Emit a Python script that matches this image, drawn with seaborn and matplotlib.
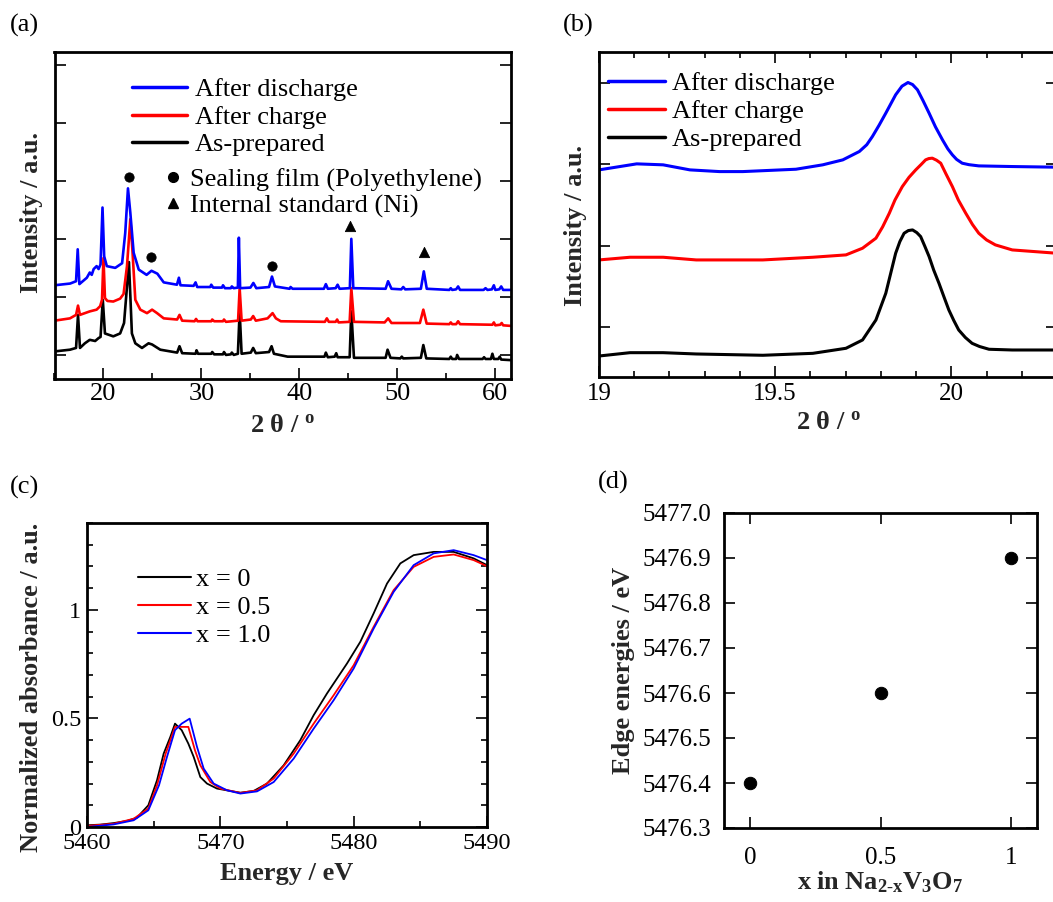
import numpy as np
import pandas as pd
import matplotlib
matplotlib.use("Agg")
import matplotlib.pyplot as plt
import seaborn as sns
from matplotlib.ticker import MultipleLocator, FixedLocator, NullFormatter, FormatStrFormatter
from matplotlib.lines import Line2D

# ---------------- data ----------------
# (a) XRD patterns (2theta, offset intensity in arbitrary tick units)
xrd_discharge = [(15.0, 2.20), (16.6, 2.23), (17.2, 2.27), (17.37, 2.82), (17.54, 2.22), (18.3, 2.33), (18.6, 2.42),
                 (18.8, 2.38), (19.0, 2.48), (19.3, 2.53), (19.5, 2.48), (19.7, 2.56), (19.9, 3.54), (20.07, 2.70),
                 (20.34, 2.53), (21.2, 2.50), (21.9, 2.58), (22.22, 3.10), (22.5, 3.87), (22.74, 3.45), (23.08, 2.76),
                 (23.6, 2.47), (24.4, 2.38), (24.9, 2.45), (25.5, 2.40), (26.15, 2.25), (27.5, 2.21), (27.7, 2.33),
                 (27.86, 2.20), (29.2, 2.19), (29.4, 2.25), (29.57, 2.17), (30.9, 2.17), (31.0, 2.21), (31.2, 2.16),
                 (32.1, 2.16), (32.2, 2.20), (32.4, 2.15), (33.0, 2.15), (33.1, 2.18), (33.3, 2.15), (33.72, 2.16),
                 (33.82, 3.02), (33.95, 2.15), (35.0, 2.16), (35.3, 2.24), (35.6, 2.15), (36.9, 2.17), (37.2, 2.35),
                 (37.5, 2.18), (39.0, 2.14), (39.1, 2.17), (39.3, 2.14), (42.5, 2.14), (42.7, 2.22), (42.9, 2.14),
                 (43.7, 2.15), (43.9, 2.21), (44.1, 2.14), (45.15, 2.15), (45.3, 3.0), (45.5, 2.15), (48.8, 2.14),
                 (49.05, 2.27), (49.4, 2.14), (50.4, 2.13), (50.6, 2.17), (50.8, 2.13), (52.4, 2.14), (52.7, 2.44),
                 (53.0, 2.14), (55.3, 2.12), (55.45, 2.15), (55.6, 2.12), (56.0, 2.13), (56.2, 2.18), (56.4, 2.12),
                 (58.8, 2.12), (59.0, 2.15), (59.2, 2.12), (59.65, 2.13), (59.85, 2.20), (60.0, 2.12), (60.4, 2.13),
                 (60.6, 2.18), (60.8, 2.12), (61.6, 2.12)]
xrd_charge = [(15.0, 1.59), (16.58, 1.63), (17.2, 1.69), (17.4, 1.85), (17.6, 1.69), (18.6, 1.75), (19.3, 1.78),
              (19.66, 1.84), (19.85, 1.95), (20.0, 2.67), (20.15, 1.98), (20.4, 1.93), (21.0, 1.92), (21.7, 1.97),
              (22.05, 2.05), (22.4, 2.53), (22.74, 3.34), (22.97, 2.76), (23.25, 1.95), (23.76, 1.78), (24.44, 1.72),
              (24.96, 1.78), (25.47, 1.72), (26.15, 1.63), (27.52, 1.61), (27.76, 1.69), (28.03, 1.59), (29.3, 1.58),
              (29.45, 1.62), (29.6, 1.58), (31.0, 1.58), (31.1, 1.61), (31.3, 1.58), (32.2, 1.58), (32.3, 1.61),
              (32.5, 1.57), (33.74, 1.59), (33.9, 2.15), (34.1, 1.59), (35.04, 1.61), (35.28, 1.67), (35.55, 1.59),
              (36.75, 1.63), (37.26, 1.72), (37.6, 1.63), (38.1, 1.58), (42.6, 1.57), (42.8, 1.63), (43.0, 1.57),
              (43.7, 1.57), (43.85, 1.61), (44.0, 1.56), (45.13, 1.57), (45.3, 2.15), (45.57, 1.57), (48.7, 1.56),
              (49.06, 1.63), (49.4, 1.55), (52.3, 1.55), (52.65, 1.78), (52.99, 1.54), (55.3, 1.53), (55.45, 1.56),
              (55.6, 1.53), (56.0, 1.53), (56.2, 1.58), (56.4, 1.53), (59.7, 1.52), (59.85, 1.56), (60.0, 1.51),
              (60.5, 1.52), (60.65, 1.55), (60.8, 1.51), (61.6, 1.50)]
xrd_asprep = [(15.0, 1.06), (16.58, 1.09), (17.2, 1.12), (17.4, 1.69), (17.6, 1.12), (18.1, 1.20), (18.6, 1.26),
              (19.15, 1.24), (19.5, 1.29), (19.7, 1.31), (19.93, 1.95), (20.15, 1.37), (21.0, 1.32), (21.7, 1.37),
              (22.1, 1.55), (22.6, 2.6), (22.9, 1.37), (23.25, 1.20), (23.93, 1.12), (24.6, 1.20), (24.96, 1.18),
              (25.8, 1.09), (27.52, 1.04), (27.76, 1.15), (28.03, 1.03), (29.4, 1.02), (29.5, 1.08), (29.65, 1.02),
              (31.0, 1.02), (31.1, 1.05), (31.3, 1.01), (32.2, 1.01), (32.3, 1.05), (32.5, 1.00), (33.0, 1.01),
              (33.1, 1.04), (33.3, 1.00), (33.72, 1.02), (33.9, 1.75), (34.1, 1.02), (35.04, 1.04), (35.28, 1.12),
              (35.55, 1.03), (36.9, 1.05), (37.16, 1.15), (37.4, 1.02), (38.8, 0.97), (42.56, 0.97), (42.7, 1.04),
              (42.9, 0.96), (43.6, 0.97), (43.76, 1.03), (43.9, 0.96), (45.13, 0.96), (45.3, 1.75), (45.57, 0.95),
              (48.8, 0.95), (49.0, 1.09), (49.3, 0.95), (50.3, 0.94), (50.45, 0.97), (50.6, 0.94), (52.4, 0.95),
              (52.65, 1.17), (52.95, 0.94), (55.3, 0.93), (55.45, 0.97), (55.6, 0.93), (56.0, 0.93), (56.1, 1.0),
              (56.3, 0.93), (58.7, 0.93), (58.85, 0.96), (59.0, 0.93), (59.55, 0.93), (59.7, 1.02), (59.85, 0.93),
              (60.3, 0.93), (60.45, 0.97), (60.6, 0.92), (61.6, 0.91)]
pe_marks_x = [22.56, 24.89, 37.16]
pe_marks_y = [4.06, 2.68, 2.54]
ni_marks_x = [45.13, 52.75]
ni_marks_y = [3.23, 2.77]

# (b) zoom of the ~19.9 deg peak
zoom_discharge = [(19.000, 2.931), (19.107, 3.005), (19.182, 2.993), (19.258, 2.931), (19.342, 2.910),
                  (19.408, 2.910), (19.559, 2.939), (19.635, 2.993), (19.692, 3.054), (19.739, 3.157),
                  (19.760, 3.240), (19.776, 3.341), (19.795, 3.480), (19.814, 3.628), (19.842, 3.854),
                  (19.860, 3.960), (19.877, 4.005), (19.890, 3.980), (19.904, 3.915), (19.920, 3.780),
                  (19.937, 3.628), (19.955, 3.460), (19.975, 3.300), (19.990, 3.190), (20.003, 3.116),
                  (20.015, 3.060), (20.031, 3.013), (20.050, 2.995), (20.078, 2.980), (20.173, 2.972),
                  (20.300, 2.964)]
zoom_charge = [(19.000, 1.824), (19.088, 1.857), (19.182, 1.857), (19.276, 1.824), (19.465, 1.824),
               (19.607, 1.857), (19.701, 1.886), (19.748, 1.968), (19.786, 2.091), (19.805, 2.230),
               (19.824, 2.398), (19.840, 2.560), (19.861, 2.726), (19.880, 2.840), (19.899, 2.931),
               (19.915, 3.000), (19.927, 3.054), (19.936, 3.070), (19.946, 3.075), (19.958, 3.050),
               (19.970, 3.013), (19.985, 2.880), (20.003, 2.726), (20.020, 2.560), (20.041, 2.398),
               (20.060, 2.260), (20.078, 2.152), (20.100, 2.070), (20.125, 2.009), (20.173, 1.947),
               (20.300, 1.906)]
zoom_asprep = [(19.000, 0.643), (19.088, 0.684), (19.182, 0.684), (19.276, 0.668), (19.465, 0.652),
               (19.607, 0.676), (19.701, 0.738), (19.748, 0.840), (19.786, 1.086), (19.814, 1.414),
               (19.828, 1.660), (19.842, 1.906), (19.854, 2.050), (19.866, 2.152), (19.878, 2.185),
               (19.890, 2.193), (19.902, 2.160), (19.913, 2.111), (19.925, 1.990), (19.937, 1.865),
               (19.950, 1.700), (19.965, 1.537), (19.980, 1.360), (19.993, 1.209), (20.007, 1.080),
               (20.021, 0.963), (20.040, 0.870), (20.059, 0.799), (20.080, 0.760), (20.107, 0.726),
               (20.173, 0.717), (20.300, 0.717)]

# (c) XANES spectra
xas_x0_e = [5460, 5461, 5462, 5463, 5463.75, 5464.6, 5465.25, 5465.75, 5466.25, 5466.6, 5467.1, 5467.6, 5468,
            5468.5, 5469, 5469.75, 5470.75, 5471.5, 5472.5, 5473.5, 5474.75, 5476, 5477, 5478, 5479.5, 5480.5,
            5481.5, 5482.5, 5483.5, 5484.5, 5486, 5487.5, 5489, 5490]
xas_x0_a = [0.008, 0.011, 0.018, 0.028, 0.043, 0.10, 0.215, 0.338, 0.415, 0.476, 0.446, 0.384, 0.323,
            0.23, 0.20, 0.177, 0.166, 0.158, 0.166, 0.20, 0.284, 0.40, 0.515, 0.615, 0.753, 0.853,
            0.984, 1.121, 1.214, 1.252, 1.267, 1.267, 1.237, 1.206]
xas_x05_e = [5460, 5462, 5463.5, 5464.6, 5465.25, 5465.9, 5466.6, 5467.1, 5467.6, 5468.1, 5468.5, 5469.25, 5470,
             5471.5, 5472.75, 5474, 5475.5, 5477, 5478.5, 5480, 5481.5, 5483, 5484.5, 5486, 5487.5, 5489, 5490]
xas_x05_a = [0.005, 0.015, 0.038, 0.085, 0.192, 0.338, 0.461, 0.461, 0.461, 0.353, 0.284, 0.207, 0.177,
             0.157, 0.169, 0.223, 0.338, 0.476, 0.607, 0.745, 0.922, 1.091, 1.198, 1.244, 1.255, 1.229, 1.201]
xas_x10_e = [5460, 5462, 5463.5, 5464.6, 5465.4, 5466, 5466.6, 5467.1, 5467.7, 5468.25, 5468.75, 5469.5, 5470.5,
             5471.5, 5472.75, 5474, 5475.5, 5477, 5478.5, 5480, 5481.5, 5483, 5484.5, 5486, 5487.5, 5489, 5490]
xas_x10_a = [0.0, 0.012, 0.031, 0.077, 0.192, 0.323, 0.446, 0.476, 0.499, 0.369, 0.269, 0.20, 0.169,
             0.154, 0.164, 0.207, 0.315, 0.453, 0.584, 0.730, 0.914, 1.083, 1.206, 1.260, 1.275, 1.252, 1.229]

# (d) edge energies
x_in_na = [0, 0.5, 1]
edge_energy = [5476.4, 5476.6, 5476.9]

legend_xrd = ["After discharge", "After charge", "As-prepared"]
legend_marks = ["Sealing film (Polyethylene)", "Internal standard (Ni)"]
legend_xas = ["x = 0", "x = 0.5", "x = 1.0"]

# ---------------- style ----------------
sns.set_theme(style="ticks")
plt.rcParams["font.family"] = ["Liberation Serif", "DejaVu Serif"]
plt.rcParams["mathtext.fontset"] = "custom"
plt.rcParams["mathtext.rm"] = "Liberation Serif"
plt.rcParams["mathtext.it"] = "Liberation Serif:italic"
plt.rcParams["mathtext.bf"] = "Liberation Serif:bold"
plt.rcParams["axes.linewidth"] = 2.0
plt.rcParams["axes.edgecolor"] = "black"
plt.rcParams["text.color"] = "black"

W, H = 1053, 902
fig = plt.figure(figsize=(W / 100, H / 100), dpi=100)


def add_ax(l, t, r, b):
    return fig.add_axes([l / W, 1 - b / H, (r - l) / W, (b - t) / H])


def style_ticks(ax, size, pad=3, left=True, right=True, top=False, bottom=True):
    ax.tick_params(which="both", direction="in", colors="black", left=left, right=right, top=top,
                   bottom=bottom, labelsize=size, pad=pad)
    ax.tick_params(which="major", length=8, width=1.2)
    ax.tick_params(which="minor", length=4.5, width=1.2)
    for s in ax.spines.values():
        s.set_linewidth(2.0)
        s.set_color("black")


BLUE, RED, BLACK = "#0000ff", "#ff0000", "#000000"
LAB = dict(fontsize=19, fontweight="bold")

# ---------------- (a) ----------------
axA = add_ax(54.5, 52, 511, 379)
for pts, col in [(xrd_asprep, BLACK), (xrd_charge, RED), (xrd_discharge, BLUE)]:
    xs, ys = zip(*pts)
    sns.lineplot(x=list(xs), y=list(ys), ax=axA, color=col, lw=1.9, sort=False, estimator=None)
sns.scatterplot(x=pe_marks_x, y=pe_marks_y, ax=axA, color="black", marker="o", s=45, edgecolor="black", zorder=5)
sns.scatterplot(x=ni_marks_x, y=ni_marks_y, ax=axA, color="black", marker="^", s=55, edgecolor="black", zorder=5)
axA.set_xlim(15, 61.6)
axA.set_ylim(0.585, 6.22)
axA.xaxis.set_major_locator(MultipleLocator(10))
axA.xaxis.set_minor_locator(MultipleLocator(5))
axA.yaxis.set_major_locator(FixedLocator([1, 2, 3, 4, 5, 6]))
axA.yaxis.set_major_formatter(NullFormatter())
style_ticks(axA, 19, pad=3)
axA.set_xlabel(r"2 θ / $^{\mathbf{o}}$", **LAB)
axA.set_ylabel("Intensity / a.u.", **LAB)
axA.xaxis.set_label_coords(0.5, -0.108)
axA.yaxis.set_label_coords(-0.025, 0.51)

hl = [Line2D([], [], color=BLUE, lw=2.5), Line2D([], [], color=RED, lw=2.5), Line2D([], [], color=BLACK, lw=2.5)]
leg1 = axA.legend(hl, legend_xrd, loc="upper left",
                  bbox_to_anchor=((132 - 54.5) / 456.5, (379 - 78) / 327), frameon=False, fontsize=19,
                  handlelength=2.1, handletextpad=0.27, labelspacing=0.15, borderpad=0, borderaxespad=0)
axA.add_artist(leg1)
hm = [Line2D([], [], color="black", marker="o", ls="", markersize=7),
      Line2D([], [], color="black", marker="^", ls="", markersize=7)]
axA.legend(hm, legend_marks, loc="upper left",
           bbox_to_anchor=((162 - 54.5) / 456.5, (379 - 168) / 327), frameon=False, fontsize=19,
           handlelength=0.8, handletextpad=0.25, labelspacing=0.07, borderpad=0, borderaxespad=0)

# ---------------- (b) ----------------
axB = add_ax(599, 52, 1057, 377)
for pts, col in [(zoom_asprep, BLACK), (zoom_charge, RED), (zoom_discharge, BLUE)]:
    xs, ys = zip(*pts)
    sns.lineplot(x=list(xs), y=list(ys), ax=axB, color=col, lw=2.2, sort=False, estimator=None)
axB.set_xlim(19, 20.3)
axB.set_ylim(0.385, 4.38)
axB.xaxis.set_major_locator(FixedLocator([19, 19.5, 20]))
axB.xaxis.set_minor_locator(MultipleLocator(0.1))
axB.set_xticklabels(["19", "19.5", "20"])
axB.yaxis.set_major_locator(FixedLocator([1, 2, 3, 4]))
axB.yaxis.set_major_formatter(NullFormatter())
style_ticks(axB, 18, pad=4, top=True)
axB.set_xlabel(r"2 θ / $^{\mathbf{o}}$", **LAB)
axB.set_ylabel("Intensity / a.u.", **LAB)
axB.xaxis.set_label_coords(0.5, -0.105)
axB.yaxis.set_label_coords(-0.026, 0.465)
axB.legend(hl, legend_xrd, loc="upper left",
           bbox_to_anchor=((608 - 599) / 458, (377 - 72) / 325), frameon=False, fontsize=19,
           handlelength=2.15, handletextpad=0.27, labelspacing=0.17, borderpad=0, borderaxespad=0)

# ---------------- (c) ----------------
axC = add_ax(87, 523, 487, 827)
for xs, ys, col in [(xas_x0_e, xas_x0_a, BLACK), (xas_x05_e, xas_x05_a, RED), (xas_x10_e, xas_x10_a, BLUE)]:
    sns.lineplot(x=xs, y=ys, ax=axC, color=col, lw=1.3, sort=False, estimator=None)
axC.set_xlim(5460, 5490)
axC.set_ylim(0, 1.4)
axC.xaxis.set_major_locator(MultipleLocator(10))
axC.xaxis.set_minor_locator(MultipleLocator(5))
axC.yaxis.set_major_locator(FixedLocator([0, 0.5, 1]))
axC.yaxis.set_minor_locator(MultipleLocator(0.1))
axC.set_yticklabels(["0", "0.5", "1"])
style_ticks(axC, 17.5, pad=4)
axC.set_xlabel("Energy / eV", **LAB)
axC.set_ylabel("Normalized absorbance / a.u.", **LAB)
axC.xaxis.set_label_coords(0.5, -0.115)
axC.yaxis.set_label_coords(-0.11, 0.46)
hc = [Line2D([], [], color=BLACK, lw=1.5), Line2D([], [], color=RED, lw=1.5), Line2D([], [], color=BLUE, lw=1.5)]
axC.legend(hc, legend_xas, loc="upper left",
           bbox_to_anchor=((138 - 87) / 400, (827 - 568) / 304), frameon=False, fontsize=19,
           handlelength=2.0, handletextpad=0.2, labelspacing=0.16, borderpad=0, borderaxespad=0)

# ---------------- (d) ----------------
axD = add_ax(724, 513, 1037, 828)
sns.scatterplot(x=x_in_na, y=edge_energy, ax=axD, color="black", s=80, edgecolor="black", zorder=5)
axD.set_xlim(-0.1, 1.1)
axD.set_ylim(5476.3, 5477.0)
axD.xaxis.set_major_locator(FixedLocator([0, 0.5, 1]))
axD.set_xticklabels(["0", "0.5", "1"])
axD.yaxis.set_major_locator(MultipleLocator(0.1))
axD.yaxis.set_major_formatter(FormatStrFormatter("%.1f"))
style_ticks(axD, 18, pad=9, top=True)
axD.tick_params(axis="x", pad=14)
axD.set_xlabel(r"$\mathbf{x\ in\ Na_{2\text{-}x}V_{3}O_{7}}$", **LAB)
axD.set_ylabel("Edge energies / eV", **LAB)
axD.xaxis.set_label_coords(0.5, -0.133)
axD.yaxis.set_label_coords(-0.284, 0.5)

# panel labels
for lab, px, py in [("(a)", 10, 25), ("(b)", 563, 25), ("(c)", 10, 487), ("(d)", 598, 482)]:
    fig.text(px / W, 1 - py / H, lab, fontsize=19, ha="left", va="center")

fig.savefig("out.png", dpi=100)
